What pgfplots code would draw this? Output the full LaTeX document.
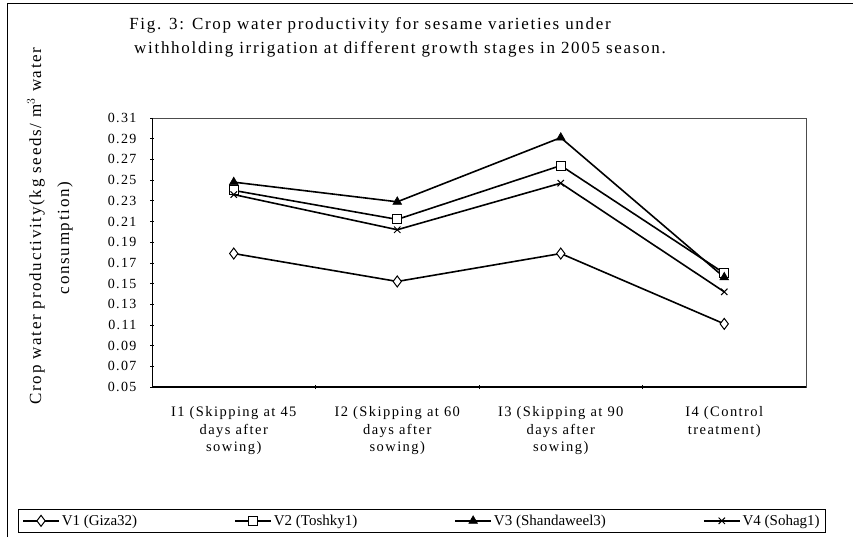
\documentclass[border=0pt]{standalone}
\usepackage{fontspec}
\setmainfont{Liberation Serif}
\newfontfamily\ls[LetterSpace=10]{Liberation Serif}
\usepackage{pgfplots}
\pgfplotsset{compat=1.18}
\begin{document}
\begin{tikzpicture}
\useasboundingbox (0pt,0pt) rectangle (853pt,538pt);
\draw[line width=0.7pt] (7pt,1pt) -- (7pt,535pt) -- (853pt,535pt);
\node[font=\ls\fontsize{17}{20}\selectfont] at (370pt,513pt) {Fig. 3: Crop water productivity for sesame varieties under};
\node[font=\ls\fontsize{17}{20}\selectfont] at (400pt,489pt) {withholding irrigation at different growth stages in 2005 season.};
\node[rotate=90,font=\ls\fontsize{17}{19}\selectfont] at (36pt,312pt) {Crop water productivity(kg seeds/ m$^{3}$ water};
\node[rotate=90,font=\ls\fontsize{17}{19}\selectfont] at (65pt,300pt) {consumption)};
\begin{axis}[
  at={(152pt,151pt)}, anchor=south west,
  scale only axis, width=654pt, height=269pt,
  xmin=-0.5, xmax=3.5, ymin=0.05, ymax=0.31,
  axis line style={line width=0.5pt, black!70},
  xtick={0,1,2,3},
  xticklabels={{I1 (Skipping at 45\\days after\\sowing)},{I2 (Skipping at 60\\days after\\sowing)},{I3 (Skipping at 90\\days after\\sowing)},{I4 (Control\\treatment)}},
  xticklabel style={align=center, font=\ls\fontsize{14.5}{17.5}\selectfont, anchor=north, yshift=-14pt},
  major x tick style={draw=none},
  minor xtick={0.5,1.5,2.5},
  minor tick length=4pt,
  ytick={0.05,0.07,0.09,0.11,0.13,0.15,0.17,0.19,0.21,0.23,0.25,0.27,0.29,0.31},
  yticklabel style={font=\ls\fontsize{14}{16}\selectfont, xshift=-10pt, /pgf/number format/.cd, fixed, fixed zerofill, precision=2, assume math mode=true},
  major tick length=4pt,
  tick style={black, line width=0.6pt},
  tick align=center,
  xtick pos=bottom, ytick pos=left,
  every axis plot/.append style={black, line width=1.6pt},
  legend columns=4,
  legend style={at={(-0.205,-0.543)}, anchor=south west, draw=black, line width=0.6pt,
    font=\fontsize{15}{18}\selectfont, /tikz/every even column/.append style={column sep=95pt},
    inner ysep=4pt, inner xsep=4pt},
  legend image code/.code={\draw[mark repeat=2,mark phase=2] plot coordinates {(0pt,0pt) (18pt,0pt) (36pt,0pt)};},
]
\draw[black, line width=1.1pt] (axis cs:-0.5,0.31) -- (axis cs:-0.5,0.05) -- (axis cs:3.5,0.05);
\addplot[mark=diamond*, mark size=5.5pt, mark options={fill=white, line width=1pt}] coordinates {(0,0.179) (1,0.152) (2,0.179) (3,0.111)};
\addlegendentry{V1 (Giza32)}
\addplot[mark=square*, mark size=4.5pt, mark options={fill=white, line width=1pt}] coordinates {(0,0.240) (1,0.212) (2,0.264) (3,0.160)};
\addlegendentry{V2 (Toshky1)}
\addplot[mark=triangle*, mark size=5pt, mark options={fill=black, line width=0.6pt}] coordinates {(0,0.248) (1,0.229) (2,0.291) (3,0.156)};
\addlegendentry{V3 (Shandaweel3)}
\addplot[mark=x, mark size=4.5pt, mark options={line width=1pt}] coordinates {(0,0.236) (1,0.202) (2,0.247) (3,0.142)};
\addlegendentry{V4 (Sohag1)}
\end{axis}
\end{tikzpicture}
\end{document}
